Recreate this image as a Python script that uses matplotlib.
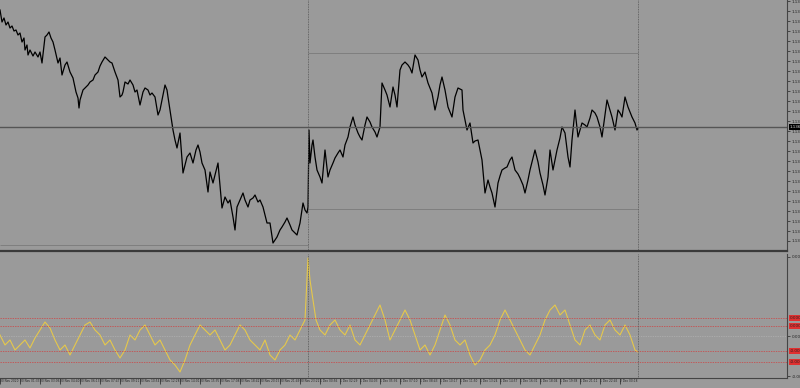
import numpy as np
import matplotlib.pyplot as plt

# price bars (bar number, close)
bars = [0, 2, 4, 6, 8, 10, 12, 14, 16, 18, 20, 22, 24, 25, 27, 28, 30, 33, 35, 38,
        40, 42, 45, 47, 49, 51, 53, 55, 58, 60, 62, 65, 67, 70, 73, 76, 78, 79, 80, 83,
        85, 88, 90, 93, 95, 98, 100, 102, 105, 108, 110, 112, 115, 118, 120, 122, 123, 125, 128, 130,
        133, 135, 137, 140, 143, 145, 148, 150, 152, 155, 158, 160, 163, 165, 167, 168, 170, 173, 175, 177,
        180, 183, 185, 187, 190, 193, 196, 198, 200, 202, 205, 208, 210, 213, 215, 218, 220, 222, 225, 228,
        230, 233, 235, 237, 240, 243, 245, 248, 250, 253, 255, 258, 260, 263, 265, 267, 270, 273, 275, 277,
        280, 282, 285, 287, 290, 292, 295, 297, 300, 303, 305, 307, 308, 309, 310, 312, 313, 315, 317, 320,
        322, 325, 328, 330, 333, 335, 338, 340, 343, 345, 348, 350, 353, 355, 358, 360, 362, 365, 367, 370,
        372, 375, 377, 380, 382, 385, 387, 390, 393, 395, 397, 400, 402, 405, 408, 410, 412, 415, 418, 420,
        422, 425, 428, 430, 432, 435, 438, 440, 442, 445, 448, 450, 452, 455, 458, 460, 462, 463, 465, 467,
        470, 473, 475, 478, 480, 482, 485, 488, 490, 492, 495, 498, 500, 502, 505, 507, 510, 512, 515, 518,
        520, 523, 525, 528, 530, 533, 535, 538, 540, 543, 545, 548, 550, 553, 555, 557, 560, 562, 565, 568,
        570, 572, 575, 578, 580, 582, 585, 587, 590, 592, 595, 597, 600, 602, 605, 607, 610, 612, 615, 618,
        620, 622, 625, 628, 630, 632, 635, 637, 638]
close = [1.13741, 1.13729, 1.13733, 1.13726, 1.13729, 1.13723, 1.13725, 1.13720, 1.13721, 1.13716,
         1.13718, 1.13709, 1.13713, 1.13701, 1.13706, 1.13696, 1.13701, 1.13695, 1.13699, 1.13694,
         1.13699, 1.13688, 1.13714, 1.13716, 1.13719, 1.13713, 1.13709, 1.13701, 1.13688, 1.13693,
         1.13676, 1.13686, 1.13689, 1.13679, 1.13673, 1.13659, 1.13653, 1.13643, 1.13651, 1.13661,
         1.13663, 1.13666, 1.13669, 1.13671, 1.13676, 1.13679, 1.13685, 1.13689, 1.13694, 1.13691,
         1.13689, 1.13688, 1.13679, 1.13671, 1.13654, 1.13656, 1.13659, 1.13669, 1.13667, 1.13671,
         1.13666, 1.13659, 1.13661, 1.13646, 1.13659, 1.13663, 1.13661, 1.13656, 1.13658, 1.13654,
         1.13636, 1.13641, 1.13656, 1.13666, 1.13661, 1.13654, 1.13641, 1.13621, 1.13611, 1.13603,
         1.13618, 1.13578, 1.13586, 1.13594, 1.13598, 1.13588, 1.13601, 1.13606, 1.13599, 1.13588,
         1.13581, 1.13559, 1.13579, 1.13568, 1.13576, 1.13588, 1.13566, 1.13543, 1.13554, 1.13548,
         1.13551, 1.13534, 1.13521, 1.13544, 1.13551, 1.13558, 1.13551, 1.13544, 1.13551, 1.13553,
         1.13556, 1.13549, 1.13551, 1.13544, 1.13536, 1.13528, 1.13528, 1.13508, 1.13511, 1.13514,
         1.13521, 1.13524, 1.13529, 1.13533, 1.13526, 1.13521, 1.13518, 1.13516, 1.13528, 1.13548,
         1.13541, 1.13538, 1.13544, 1.13621, 1.13588, 1.13606, 1.13611, 1.13594, 1.13581, 1.13574,
         1.13568, 1.13601, 1.13574, 1.13581, 1.13588, 1.13593, 1.13598, 1.13601, 1.13594, 1.13606,
         1.13614, 1.13624, 1.13634, 1.13626, 1.13618, 1.13614, 1.13611, 1.13626, 1.13634, 1.13629,
         1.13624, 1.13619, 1.13614, 1.13624, 1.13668, 1.13661, 1.13656, 1.13644, 1.13664, 1.13656,
         1.13644, 1.13681, 1.13686, 1.13689, 1.13686, 1.13683, 1.13678, 1.13696, 1.13691, 1.13681,
         1.13674, 1.13679, 1.13668, 1.13663, 1.13658, 1.13641, 1.13654, 1.13666, 1.13674, 1.13661,
         1.13644, 1.13639, 1.13634, 1.13654, 1.13663, 1.13662, 1.13661, 1.13641, 1.13631, 1.13621,
         1.13628, 1.13608, 1.13610, 1.13611, 1.13601, 1.13591, 1.13558, 1.13571, 1.13564, 1.13558,
         1.13544, 1.13568, 1.13575, 1.13581, 1.13583, 1.13584, 1.13591, 1.13594, 1.13581, 1.13577,
         1.13573, 1.13566, 1.13558, 1.13571, 1.13581, 1.13593, 1.13601, 1.13589, 1.13578, 1.13566,
         1.13556, 1.13574, 1.13601, 1.13581, 1.13591, 1.13601, 1.13613, 1.13624, 1.13618, 1.13594,
         1.13584, 1.13611, 1.13641, 1.13614, 1.13621, 1.13628, 1.13626, 1.13624, 1.13633, 1.13641,
         1.13638, 1.13634, 1.13624, 1.13614, 1.13636, 1.13651, 1.13641, 1.13634, 1.13621, 1.13641,
         1.13638, 1.13634, 1.13654, 1.13644, 1.13639, 1.13634, 1.13628, 1.13621, 1.13623]

last_price = 1.13624
day_sep = [308, 638]
# daily high / low levels: (start bar, end bar, price)
day_levels = [(0, 308, 1.13506), (308, 638, 1.13698), (308, 638, 1.13542)]

# oscillator (units of 0.00001)
osc_bars = list(range(0, 306, 5)) + [308, 310, 313, 316] + list(range(320, 636, 5)) + [638]
osc_pts = [4, -36, -16, -56, -36, -16, -48, -8, 24, 56, 32, -16, -56, -36, -76, -36, 4, 44, 56, 24,
           4, -36, -16, -56, -88, -56, 4, -16, 24, 44, 4, -36, -16, -56, -96, -116, -144, -96, -36, 4,
           44, 24, 4, 24, -16, -56, -36, 4, 44, 24, -16, -36, -56, -16, -76, -96, -56, -36, 4, -16,
           24, 64, 312, 224, 144, 64, 24, 4, 44, 64, 24, 4, 44, -16, -36, 4, 44, 84, 124, 64,
           -16, 24, 64, 104, 64, 4, -56, -36, -76, -36, 24, 84, 44, -16, -36, -16, -76, -116, -96, -56,
           -36, 4, 64, 104, 64, 24, -16, -56, -76, -36, 4, 64, 104, 124, 84, 104, 44, -16, -36, 24,
           44, 4, -16, 44, 64, 24, 4, 44, 4, -56, -64]
osc_levels = [72, 40, -60, -104]
osc_title = "TSI Stochastic(30, 3, 3, 3) -0.00064"

time_bars = list(range(0, 640, 20))
time_labels = ["30 Nov 2020", "30 Nov 01:33", "30 Nov 03:06", "30 Nov 04:40", "30 Nov 06:13",
               "30 Nov 07:47", "30 Nov 09:21", "30 Nov 10:54", "30 Nov 12:28", "30 Nov 14:01",
               "30 Nov 15:35", "30 Nov 17:08", "30 Nov 18:42", "30 Nov 20:15", "30 Nov 21:49",
               "30 Nov 23:22", "1 Dec 00:56", "1 Dec 02:29", "1 Dec 04:03", "1 Dec 05:36",
               "1 Dec 07:10", "1 Dec 08:43", "1 Dec 10:17", "1 Dec 11:50", "1 Dec 13:24",
               "1 Dec 14:57", "1 Dec 16:31", "1 Dec 18:04", "1 Dec 19:38", "1 Dec 21:11",
               "1 Dec 22:45", "2 Dec 00:18"]

bg = '#9a9a9a'
W, H = 800, 388
fig = plt.figure(figsize=(8, 3.88), dpi=100, facecolor=bg)
ax = fig.add_axes([0, 1 - 251 / H, 787 / W, 251 / H], facecolor=bg)
ax2 = fig.add_axes([0, 10 / H, 787 / W, 124 / H], facecolor=bg)

# price panel
ax.plot(bars, close, color='black', lw=0.9)
ax.axhline(last_price, color='#555555', lw=1.0)
for x0, x1, p in day_levels:
    ax.hlines(p, x0, x1, color='#7a7a7a', lw=0.6)
for x in day_sep:
    ax.axvline(x, color='#555555', lw=0.6, ls=(0, (1, 1)))
ax.set_xlim(0, 787)
ax.set_ylim(1.13500, 1.13751)
ax.yaxis.tick_right()
ax.set_yticks(np.arange(1.13510, 1.13751, 0.0001))
ax.set_yticklabels(['%.5f' % v for v in np.arange(1.13510, 1.13751, 0.0001)])
ax.tick_params(axis='y', labelsize=3.0, length=2, pad=1.5, colors='#222222', width=0.5)
ax.set_xticks([])
for s in ['top', 'left']:
    ax.spines[s].set_visible(False)
ax.spines['right'].set_color('#444444')
ax.spines['right'].set_linewidth(0.8)
ax.spines['bottom'].set_color('#3a3a3a')
ax.spines['bottom'].set_linewidth(1.6)
ax.text(1.003, last_price, '%.5f' % last_price, transform=ax.get_yaxis_transform(),
        fontsize=3.0, color='#dddddd', va='center', ha='left',
        bbox=dict(boxstyle='square,pad=0.15', fc='black', ec='none'))

# oscillator panel
ax2.plot(osc_bars, osc_pts, color='#e6c84a', lw=0.8)
ax2.axhline(0, color='#bbbbbb', lw=0.5, ls=(0, (1, 1.5)))
for lv in osc_levels:
    ax2.axhline(lv, color='#d04040', lw=0.5, ls=(0, (2, 1.5)))
for x in day_sep:
    ax2.axvline(x, color='#555555', lw=0.6, ls=(0, (1, 1)))
ax2.set_xlim(0, 787)
ax2.set_ylim(-168, 328)
ax2.yaxis.tick_right()
ax2.set_yticks([316, 0, -160])
ax2.set_yticklabels(['%.4f' % (v / 1e5) for v in [316, 0, -160]])
ax2.tick_params(axis='y', labelsize=3.0, length=2, pad=1.5, colors='#222222', width=0.5)
for lv in osc_levels:
    ax2.text(1.003, lv, '%.4f' % (lv / 1e5), transform=ax2.get_yaxis_transform(),
             fontsize=3.0, color='#222222', va='center', ha='left',
             bbox=dict(boxstyle='square,pad=0.15', fc='#e03030', ec='none'))
ax2.text(3, 1, osc_title, transform=ax2.get_yaxis_transform(), fontsize=3.0,
         color='#222222', va='top', ha='left')
ax2.set_xticks(time_bars)
ax2.set_xticklabels(time_labels, ha='left')
ax2.tick_params(axis='x', labelsize=2.1, length=4, pad=-3.0, colors='#222222', width=0.5,
                direction='out')
for s in ['top', 'left']:
    ax2.spines[s].set_visible(False)
ax2.spines['right'].set_color('#444444')
ax2.spines['right'].set_linewidth(0.8)
ax2.spines['bottom'].set_color('#444444')
ax2.spines['bottom'].set_linewidth(0.8)

fig.savefig('out.png', dpi=100, facecolor=bg)
